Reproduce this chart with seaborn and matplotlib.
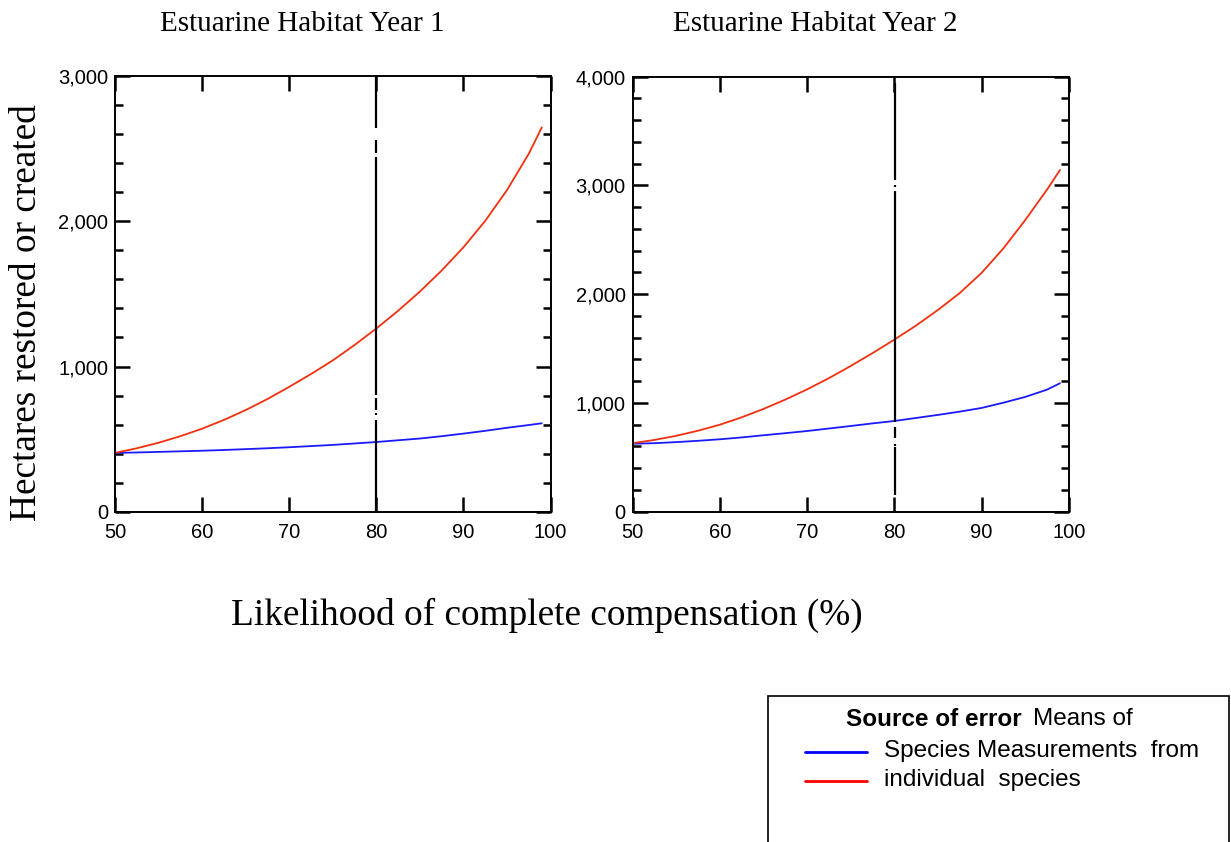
import numpy as np
import pandas as pd
import seaborn as sns
import matplotlib.pyplot as plt
from matplotlib.lines import Line2D
from matplotlib.patches import Rectangle
from matplotlib.ticker import MultipleLocator, StrMethodFormatter

# Likelihood of complete compensation (%)
likelihood = [50, 52.5, 55, 57.5, 60, 62.5, 65, 67.5, 70, 72.5, 75,
              77.5, 80, 82.5, 85, 87.5, 90, 92.5, 95, 97.5, 99]

# Year 1 (hectares)
y1_species_means = [405, 408, 412, 416, 420, 425, 431, 437, 444, 452, 460,
                    470, 480, 492, 504, 520, 538, 557, 578, 597, 609]
y1_individual = [405, 437, 475, 520, 572, 632, 700, 776, 860, 948, 1042,
                 1148, 1262, 1384, 1516, 1661, 1821, 2003, 2215, 2465, 2647]

# Year 2 (hectares)
y2_species_means = [625, 630, 640, 652, 666, 683, 703, 722, 742, 765, 788,
                    812, 834, 862, 890, 920, 954, 1002, 1055, 1122, 1181]
y2_individual = [630, 660, 698, 745, 800, 868, 945, 1031, 1125, 1228, 1340,
                 1458, 1582, 1712, 1855, 2010, 2195, 2420, 2680, 2960, 3142]

# vertical marker at 80 % (drawn in pieces, as in the source graphic)
marker_x = [80, 80.1]
marker_pieces = [
    [(0, 632), (666, 680), (700, 781), (804, 2441), (2472, 2560), (2640, 3000)],
    [(154, 592), (604, 623), (675, 782), (828, 2952), (2989, 3004), (3049, 3939)],
]

titles = ["Estuarine Habitat Year 1", "Estuarine Habitat Year 2"]
title_x = [302, 815]
y_max = [3000, 4000]
series_names = ["Species Measurements", "individual species"]
series_colors = {"Species Measurements": "#1a1aff", "individual species": "#f2300f"}

sns.set_style("ticks")
plt.rcParams["font.family"] = ["Liberation Sans", "DejaVu Sans"]
plt.rcParams["text.color"] = "black"

W, H = 1231, 842
fig = plt.figure(figsize=(W / 100, H / 100), dpi=100)
ax1 = fig.add_axes([115 / W, 1 - 511.7 / H, 435.5 / W, 435.5 / H])
ax2 = fig.add_axes([632.7 / W, 1 - 511.7 / H, 436 / W, 435 / H])

panels = [(ax1, y1_species_means, y1_individual), (ax2, y2_species_means, y2_individual)]

for i, (ax, means, indiv) in enumerate(panels):
    df = pd.DataFrame({
        "x": likelihood * 2,
        "y": means + indiv,
        "source": [series_names[0]] * len(likelihood) + [series_names[1]] * len(likelihood),
    })
    sns.lineplot(data=df, x="x", y="y", hue="source", palette=series_colors,
                 ax=ax, legend=False, linewidth=1.3)

    for lo, hi in marker_pieces[i]:
        ax.vlines(marker_x[i], lo, hi, color="black", linewidth=1.6)

    ax.set_xlim(50, 100)
    ax.set_ylim(0, y_max[i])
    ax.xaxis.set_major_locator(MultipleLocator(10))
    ax.yaxis.set_major_locator(MultipleLocator(1000))
    ax.yaxis.set_minor_locator(MultipleLocator(200))
    ax.yaxis.set_major_formatter(StrMethodFormatter("{x:,.0f}"))
    ax.tick_params(which="both", direction="in", top=True, right=True,
                   labelsize=14.5, width=1.8, colors="black")
    ax.tick_params(which="major", length=11)
    ax.tick_params(which="minor", length=6)
    ax.tick_params(axis="y", pad=5)
    ax.tick_params(axis="x", pad=8)
    for sp in ax.spines.values():
        sp.set_linewidth(1.4)
        sp.set_color("black")
    ax.set_xlabel("")
    ax.set_ylabel("")
    fig.text(title_x[i] / W, 1 - 24 / H, titles[i], family="Liberation Serif",
             fontsize=21, ha="center", va="center")

fig.text(27 / W, 1 - 313 / H, "Hectares restored or created", rotation=90,
         family="Liberation Serif", fontsize=26.8, ha="center", va="center")
fig.text(547 / W, 1 - 615 / H, "Likelihood of complete compensation (%)",
         family="Liberation Serif", fontsize=26.8, ha="center", va="center")

# legend box
fig.patches.append(Rectangle((768 / W, -0.01), 461 / W, 1 - 696 / H + 0.01,
                             transform=fig.transFigure, fill=False,
                             edgecolor="black", linewidth=1.2))
fig.text(846 / W, 1 - 719 / H, "Source of error", fontsize=17.5,
         fontweight="bold", va="center")
fig.text(1033 / W, 1 - 719 / H, "Means of", fontsize=17.5, va="center")
legend_rows = [(751, "#0000ff", "Species Measurements  from"),
               (780, "#ff0000", "individual  species")]
for ypix, color, label in legend_rows:
    yf = 1 - ypix / H
    fig.lines.append(Line2D([805 / W, 867 / W], [1 - (ypix + 1) / H] * 2,
                            transform=fig.transFigure, color=color, linewidth=2))
    fig.text(884 / W, yf, label, fontsize=17.5, va="center")

fig.savefig("out.png", dpi=100)
plt.close(fig)
